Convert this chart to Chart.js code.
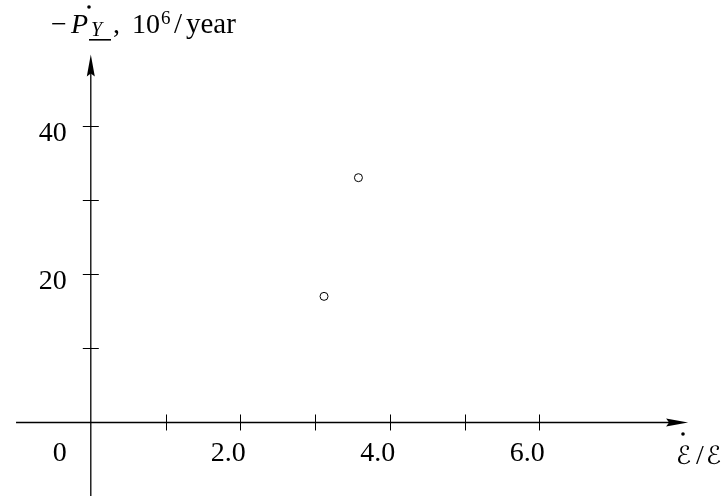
<!DOCTYPE html>
<html>
<head>
<meta charset="utf-8">
<script src="https://cdn.jsdelivr.net/npm/chart.js@4"></script>
<style>
  html, body { margin: 0; padding: 0; background: #fff; overflow: hidden; }
</style>
</head>
<body>
<canvas id="chartP" width="725" height="501"></canvas>
<script>
// data
const xValues = [3.12, 3.58];
const yValues = [17, 33];
const xTicks = [1, 2, 3, 4, 5, 6];
const xTickLabels = [2, 4, 6];
const yTicks = [10, 20, 30, 40];
const yTickLabels = [20, 40];

const serif = "'Liberation Serif', 'DejaVu Serif', serif";

function arrow(ctx, tx, ty, dx, dy) {
  // latex-ish arrow head, tip at (tx,ty), pointing along (dx,dy)
  const len = 22, half = 4, notch = 3;
  const px = -dy, py = dx;
  ctx.beginPath();
  ctx.moveTo(tx, ty);
  ctx.lineTo(tx - dx * len + px * half, ty - dy * len + py * half);
  ctx.lineTo(tx - dx * (len - notch), ty - dy * (len - notch));
  ctx.lineTo(tx - dx * len - px * half, ty - dy * len - py * half);
  ctx.closePath();
  ctx.fill();
}

const axesPlugin = {
  id: 'mathAxes',
  beforeDatasetsDraw(chart) {
    const ctx = chart.ctx;
    const xs = chart.scales.x, ys = chart.scales.y;
    const x0 = xs.getPixelForValue(0), y0 = ys.getPixelForValue(0);
    ctx.save();
    ctx.strokeStyle = '#000';
    ctx.fillStyle = '#000';
    ctx.lineWidth = 1.3;

    // axis lines
    const xEnd = xs.getPixelForValue(7.99);
    const yTop = ys.getPixelForValue(49.6);
    ctx.beginPath();
    ctx.moveTo(xs.getPixelForValue(-1.0), y0);
    ctx.lineTo(xEnd - 15, y0);
    ctx.moveTo(x0, ys.bottom);
    ctx.lineTo(x0, yTop + 15);
    ctx.stroke();
    arrow(ctx, xEnd, y0, 1, 0);
    arrow(ctx, x0, yTop, 0, -1);

    // ticks crossing the axes
    ctx.lineWidth = 1;
    ctx.beginPath();
    xTicks.forEach(v => {
      const p = Math.round(xs.getPixelForValue(v)) + 0.5;
      ctx.moveTo(p, y0 - 8); ctx.lineTo(p, y0 + 8);
    });
    yTicks.forEach(v => {
      const p = Math.round(ys.getPixelForValue(v)) + 0.5;
      ctx.moveTo(x0 - 8, p); ctx.lineTo(x0 + 8, p);
    });
    ctx.stroke();

    // tick labels
    ctx.font = '28px ' + serif;
    ctx.textBaseline = 'alphabetic';
    ctx.textAlign = 'right';
    xTickLabels.forEach(v => {
      ctx.fillText(v.toFixed(1), xs.getPixelForValue(v) + 5.5, y0 + 39);
    });
    yTickLabels.forEach(v => {
      ctx.fillText(String(v), x0 - 24, ys.getPixelForValue(v) + 15);
    });
    ctx.fillText('0', x0 - 24, y0 + 39);

    // y axis title: -P_Y, 10^6/year
    ctx.textAlign = 'left';
    ctx.fillText('\u2212', 51, 33);
    ctx.font = 'italic 28px ' + serif;
    ctx.fillText('P', 71, 33);
    ctx.beginPath(); ctx.arc(89, 7, 1.8, 0, Math.PI * 2); ctx.fill();
    ctx.font = 'italic 20px ' + serif;
    ctx.fillText('Y', 91, 36);
    ctx.fillRect(89, 39, 22, 1.6);
    ctx.font = '28px ' + serif;
    ctx.fillText(',', 113, 33);
    ctx.fillText('10', 132, 33);
    ctx.font = '19px ' + serif;
    ctx.fillText('6', 161, 24);
    ctx.font = '29px ' + serif;
    ctx.fillText('/', 174, 33);
    ctx.fillText('year', 186, 33);

    // x axis title: E-dot / E
    ctx.font = "italic 25px 'DejaVu Serif', 'DejaVu Sans', serif";
    ctx.fillText('\u2130', 676, 464);
    ctx.beginPath(); ctx.arc(683, 434, 1.8, 0, Math.PI * 2); ctx.fill();
    ctx.font = '28px ' + serif;
    ctx.fillText('/', 696, 464);
    ctx.font = "italic 25px 'DejaVu Serif', 'DejaVu Sans', serif";
    ctx.fillText('\u2130', 706, 464);
    ctx.restore();
  }
};

const ctx = document.getElementById('chartP');

new Chart(ctx, {
  type: 'scatter',
  data: {
    datasets: [{
      label: 'P',
      data: xValues.map((x, i) => ({ x: x, y: yValues[i] })),
      pointStyle: 'circle',
      pointRadius: 4,
      pointBorderWidth: 1,
      borderColor: '#000',
      backgroundColor: 'rgba(0,0,0,0)'
    }]
  },
  options: {
    responsive: false,
    maintainAspectRatio: false,
    animation: false,
    devicePixelRatio: 1,
    layout: { padding: 0 },
    plugins: { legend: { display: false }, tooltip: { enabled: false } },
    scales: {
      x: { type: 'linear', display: false, min: -1.1478, max: 8.4169 },
      y: { type: 'linear', display: false, min: -9.908, max: 56.275 }
    }
  },
  plugins: [axesPlugin]
});
</script>
</body>
</html>
